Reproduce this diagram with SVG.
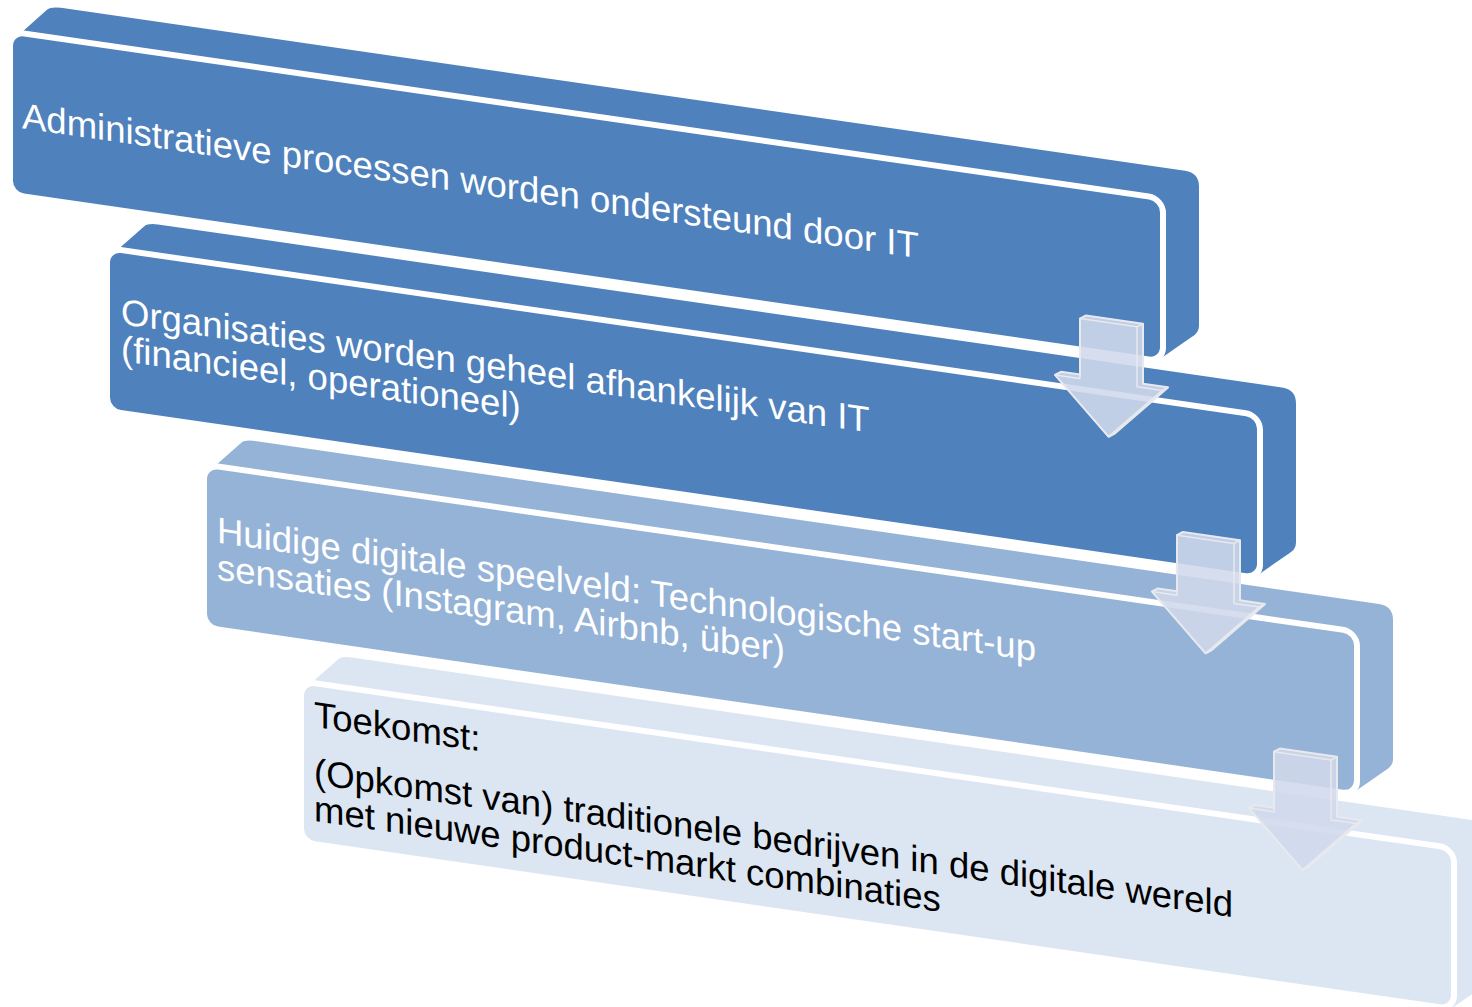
<svg xmlns="http://www.w3.org/2000/svg" xmlns:xlink="http://www.w3.org/1999/xlink" width="1472" height="1007" viewBox="0 0 1472 1007">
<style>
.t{font-family:"Liberation Sans",Arial,sans-serif;font-size:36.5px}
.w{fill:#ffffff}
.k{fill:#000000}
.front{stroke:#ffffff;stroke-width:6}
.arrow{fill:#D0D8EC;fill-opacity:0.88;stroke:#E8E9EE;stroke-width:2;stroke-linejoin:round}
.arrowf{fill:none;stroke:#E8E9EE;stroke-width:1.5;stroke-linejoin:round}
</style>
<defs>
<path id="ext" d="M 2,6 L 34,-27 Q 38,-31 48,-31 L 1172,-31 Q 1186,-31 1186,-17 L 1186,122 Q 1186,129 1179,134 L 1148,160 L 10,160 Z"/>
<g id="arr">
<path class="arrow" d="M1080,162 L1086,158 L1143,158 L1143,218 L1168,218 L1114.5,272 L1108.5,276 L1055,222 L1061,218 L1080,218 Z"/>
<path class="arrowf" d="M1080,162 L1137,162 L1137,222 L1162,222 L1108.5,276 L1055,222 L1080,222 Z M1137,162 L1143,158 M1162,222 L1168,218 M1108.5,276 L1114.5,272"/>
</g>
</defs>
<g transform="skewY(8.25)">
<g id="node1" transform="translate(13,30)">
<use xlink:href="#ext" fill="#4F81BD"/>
<rect class="front" x="-3" y="0" width="1153" height="163" rx="14" fill="#4F81BD"/>
<text class="t w" x="9" y="95">Administratieve processen worden ondersteund door IT</text>
</g>
<g id="node2" transform="translate(110,232.5)">
<use xlink:href="#ext" fill="#4F81BD"/>
<rect class="front" x="-3" y="0" width="1153" height="163" rx="14" fill="#4F81BD"/>
<text class="t w" x="11" y="74">Organisaties worden geheel afhankelijk van IT</text>
<text class="t w" x="11" y="111">(financieel, operationeel)</text>
</g>
<g id="node3" transform="translate(207,435)">
<use xlink:href="#ext" fill="#95B3D7"/>
<rect class="front" x="-3" y="0" width="1153" height="163" rx="14" fill="#95B3D7"/>
<text class="t w" x="10" y="76">Huidige digitale speelveld: Technologische start-up</text>
<text class="t w" x="10" y="113">sensaties (Instagram, Airbnb, über)</text>
</g>
<g id="node4" transform="translate(304,637.5)">
<use xlink:href="#ext" fill="#DCE6F2"/>
<rect class="front" x="-3" y="0" width="1153" height="161" rx="14" fill="#DCE6F2"/>
<text class="t k" x="10" y="44">Toekomst:</text>
<text class="t k" x="10" y="101">(Opkomst van) traditionele bedrijven in de digitale wereld</text>
<text class="t k" x="10" y="138">met nieuwe product-markt combinaties</text>
</g>
<g id="connectors">
<use xlink:href="#arr"/>
<use xlink:href="#arr" transform="translate(97,202.5)"/>
<use xlink:href="#arr" transform="translate(194,405)"/>
</g>
</g>
</svg>
